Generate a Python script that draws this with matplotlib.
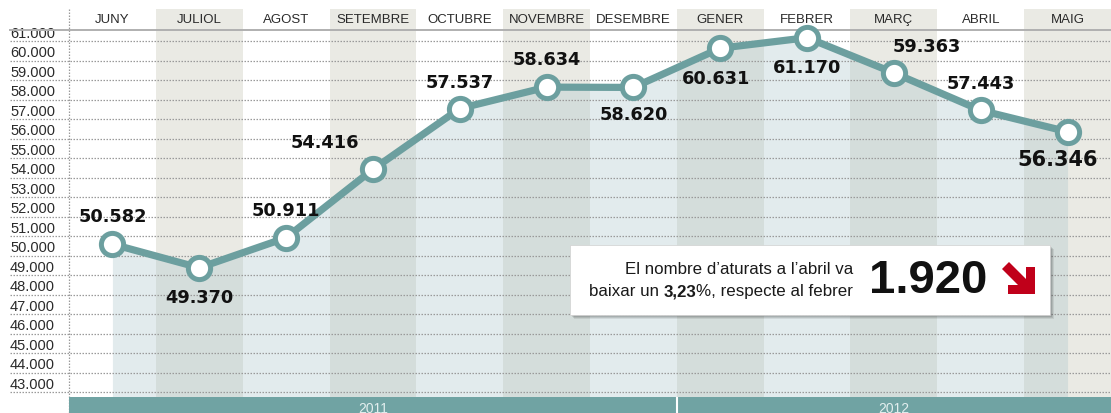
import matplotlib
matplotlib.use("Agg")
import matplotlib.pyplot as plt
from matplotlib.patches import Rectangle, Polygon
import numpy as np

months = ["JUNY", "JULIOL", "AGOST", "SETEMBRE", "OCTUBRE", "NOVEMBRE",
          "DESEMBRE", "GENER", "FEBRER", "MARÇ", "ABRIL", "MAIG"]
values = [50582, 49370, 50911, 54416, 57537, 58634,
          58620, 60631, 61170, 59363, 57443, 56346]
value_labels = ["50.582", "49.370", "50.911", "54.416", "57.537", "58.634",
                "58.620", "60.631", "61.170", "59.363", "57.443", "56.346"]
yticks = list(range(43000, 62000, 1000))
ytick_labels = [f"{v // 1000}.000" for v in yticks]
years = ["2011", "2012"]
year_spans = [(-0.5, 6.5), (6.5, 11.5)]

W, H = 1111, 414
DPI = 100
TEAL = "#6c9f9f"
BAND = "#70a3a3"
BEIGE = "#eaeae4"
FILLC = "#abc6cc"
LIB = ["Liberation Sans", "DejaVu Sans"]

fig = plt.figure(figsize=(W / DPI, H / DPI), dpi=DPI)
fig.patch.set_facecolor("white")

# main axes: x 69..1111 px, y 10..398 px (from top)
ax_left, ax_right, ax_top, ax_bot = 69, 1111, 10, 398
ax = fig.add_axes([ax_left / W, 1 - ax_bot / H, (ax_right - ax_left) / W, (ax_bot - ax_top) / H])
pxk = 351 / 18.0  # px per 1000
ylo = 43000 - (ax_bot - 393) / pxk * 1000
yhi = 61000 + (42 - ax_top) / pxk * 1000
ax.set_xlim(-0.5, 11.5)
ax.set_ylim(ylo, yhi)
ax.axis("off")

x = np.arange(len(months))
colw = (ax_right - ax_left) / 12.0

# column shading
for i in range(len(months)):
    if i % 2 == 1:
        ax.axvspan(i - 0.5, i + 0.5, color=BEIGE, lw=0, zorder=0)

# area under line
ax.fill_between(x, values, ylo, color=FILLC, alpha=0.34, lw=0, zorder=1)

# gridlines extending to the left past the axes
xgrid_left = -0.5 - (ax_left - 10) / colw
ax.hlines(yticks, xgrid_left, 11.5, colors="#9a9a9a", linestyles=(0, (1.2, 1.2)),
          lw=0.9, clip_on=False, zorder=2)
for v, lab in zip(yticks, ytick_labels):
    ax.text(xgrid_left, v + 60, lab, ha="left", va="bottom", fontsize=10.5,
            family=LIB, color="#2a2a2a", clip_on=False)

# vertical dashed line at left
ax.plot([-0.5, -0.5], [yhi, ylo - 16 / pxk * 1000], color="#9a9a9a",
        ls=(0, (1.2, 1.2)), lw=0.9, clip_on=False, zorder=2)

# header line and month labels
hdr_frac = (ax_bot - 31) / (ax_bot - ax_top)
ax.plot([xgrid_left, 11.5], [hdr_frac, hdr_frac], transform=ax.get_xaxis_transform(),
        color="#b0b0b0", lw=1.4, clip_on=False, zorder=3)
lab_frac = (ax_bot - 20) / (ax_bot - ax_top)
for i, m in enumerate(months):
    ax.text(i, lab_frac, m, transform=ax.get_xaxis_transform(), ha="center",
            va="center", fontsize=9.5, family=LIB, color="#2a2a2a")

# line and markers
ax.plot(x, values, color=TEAL, lw=5.2, zorder=4, solid_capstyle="round")
ax.plot(x, values, ls="none", marker="o", ms=16, mfc="white", mec=TEAL,
        mew=3.6, zorder=5)

# value labels (offsets: dx in columns, dy in px up)
offsets = [(0, 28), (0, -29), (0, 28), (-0.55, 27), (0, 27), (0, 28),
           (0, -27), (-0.05, -30), (0, -29), (0.38, 27), (0, 27), (-0.12, -27)]
for i, (v, lab) in enumerate(zip(values, value_labels)):
    dx, dy = offsets[i]
    fs = 15 if i == len(values) - 1 else 12.8
    ax.text(i + dx, v + dy / pxk * 1000, lab, ha="center", va="center",
            fontsize=fs, fontweight="bold", color="#111111", zorder=6)

# bottom band
bax = fig.add_axes([ax_left / W, 0, (ax_right - ax_left) / W, 16 / H])
bax.set_xlim(-0.5, 11.5)
bax.set_ylim(0, 1)
bax.axis("off")
for (a, b), yr in zip(year_spans, years):
    bax.add_patch(Rectangle((a, 0), b - a, 1, color=BAND, lw=0))
    bax.text((a + b) / 2, 0.3, yr, ha="center", va="center", fontsize=10,
             family=LIB, color="#e2eeee")
bax.plot([6.5, 6.5], [0, 1], color="white", lw=1.5)

# annotation box in pixel coordinates overlay
oax = fig.add_axes([0, 0, 1, 1])
oax.set_xlim(0, W)
oax.set_ylim(H, 0)
oax.axis("off")
bx0, by0, bx1, by1 = 570, 246, 1050, 316
for k, a in enumerate([0.10, 0.10, 0.10, 0.08]):
    oax.add_patch(Rectangle((bx0 + 1 + k, by0 + 1 + k), bx1 - bx0, by1 - by0,
                            color="black", alpha=a, lw=0, zorder=7))
oax.add_patch(Rectangle((bx0, by0), bx1 - bx0, by1 - by0, facecolor="white",
                        edgecolor="#d0d0d0", lw=0.5, zorder=8))
fs_box = 12.2
oax.text(853, 270, "El nombre d’aturats a l’abril va", ha="right", va="center",
         fontsize=fs_box, family=LIB, color="#1a1a1a", zorder=9)
t3 = oax.text(853, 292, "%, respecte al febrer", ha="right", va="center",
              fontsize=fs_box, family=LIB, color="#1a1a1a", zorder=9)
t2 = oax.annotate("3,23", xy=(0, 0), xycoords=t3, ha="right", va="bottom",
                  fontsize=fs_box, family=LIB, fontweight="bold", color="#1a1a1a",
                  zorder=9)
oax.annotate("baixar un ", xy=(0, 0), xycoords=t2, ha="right", va="bottom",
             fontsize=fs_box, family=LIB, color="#1a1a1a", zorder=9)
oax.text(928, 281, "1.920", ha="center", va="center", fontsize=34,
         family=LIB, fontweight="bold", color="#111111", zorder=9)
# red arrow pointing down-right (shaft + L-shaped head)
ox, oy = 1002, 262
RED = "#c0001a"
shaft = Polygon([(ox + 0, oy + 8), (ox + 7, oy + 1), (ox + 29, oy + 23), (ox + 22, oy + 30)],
                closed=True, color=RED, lw=0, zorder=9)
head = Polygon([(ox + 33, oy + 6), (ox + 33, oy + 33), (ox + 6, oy + 33),
                (ox + 6, oy + 24), (ox + 24, oy + 24), (ox + 24, oy + 6)],
               closed=True, color=RED, lw=0, zorder=9)
oax.add_patch(shaft)
oax.add_patch(head)

fig.savefig("out.png", dpi=DPI, facecolor="white")
